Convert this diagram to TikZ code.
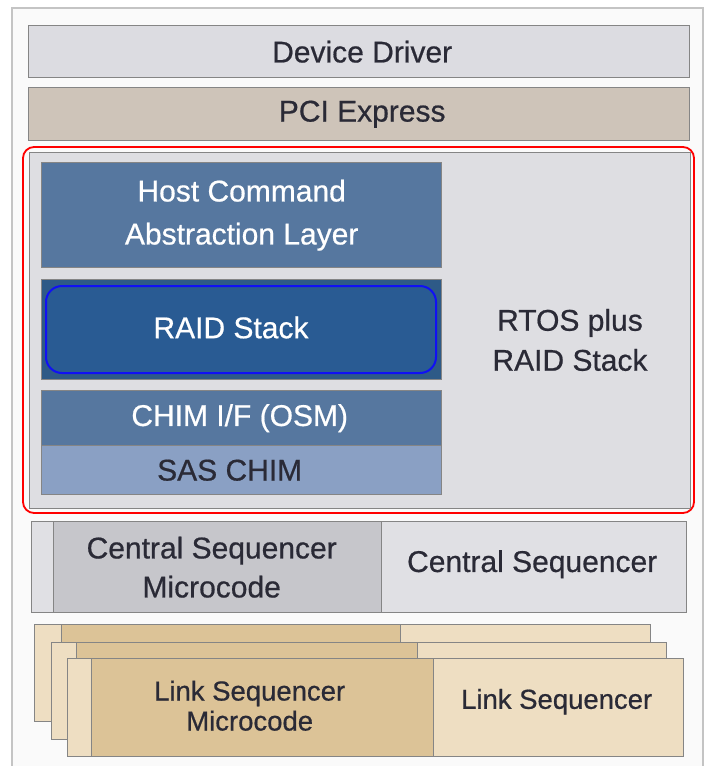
\documentclass[tikz,border=0pt]{standalone}
\usepackage{fontspec}
\setmainfont{Liberation Sans}[FakeBold=0.6]
\definecolor{frameC}{HTML}{C4C4C4}
\definecolor{frameF}{HTML}{FAFAFA}
\definecolor{edgeC}{HTML}{858585}
\definecolor{ddF}{HTML}{DCDCE1}
\definecolor{pciF}{HTML}{CEC4B9}
\definecolor{grayF}{HTML}{DEDEE2}
\definecolor{hostF}{HTML}{56779F}
\definecolor{raidO}{HTML}{2E5A87}
\definecolor{raidI}{HTML}{295B93}
\definecolor{raidB}{HTML}{1010F5}
\definecolor{sasF}{HTML}{8AA0C4}
\definecolor{cmF}{HTML}{C6C6CB}
\definecolor{csF}{HTML}{E0E0E4}
\definecolor{lmF}{HTML}{DCC397}
\definecolor{lsF}{HTML}{EEDEC2}
\definecolor{txtD}{HTML}{2A2A36}
\tikzset{
  blk/.style={draw=edgeC, line width=1.4pt, inner sep=0pt, anchor=north west, align=center},
  lbl/.style={font=\fontsize{30}{43}\selectfont, text=txtD, align=center, inner sep=0pt},
  lblw/.style={lbl, text=white},
  lbls/.style={font=\fontsize{27.5}{30}\selectfont, text=txtD, align=center, inner sep=0pt},
}
\newcommand{\boxat}[6]{% name, x1, y1, x2, y2, fill
  \path let \n1={#4-#2}, \n2={#5-#3} in node[blk, fill=#6, minimum width=\n1*1pt, minimum height=\n2*1pt] (#1) at (#2,#3) {};}
\usetikzlibrary{calc}
\begin{document}
\begin{tikzpicture}[x=1pt,y=-1pt]
\useasboundingbox (0,0) rectangle (707,766);
% outer frame
\fill[white] (0,0) rectangle (707,766);
\draw[frameC, line width=1.6pt, fill=frameF] (12,780) -- (12,8) -- (703,8) -- (703,780);
% top layers
\boxat{dd}{28}{25}{689}{77}{ddF}
\node[lbl] at ($(dd.center)+(3,0)$) {Device Driver};
\boxat{pci}{28}{87}{689}{140}{pciF}
\node[lbl] at ($(pci.center)+(3,0)$) {PCI Express};
% RTOS region
\draw[red, line width=1.8pt, rounded corners=11pt] (23,147) rectangle (694,513);
\boxat{rtos}{29}{152}{690}{508}{grayF}
\node[lbl, font=\fontsize{30}{40}\selectfont] (rtostxt) at (570,340) {RTOS plus\\RAID Stack};
\boxat{host}{41}{162}{441}{267}{hostF}
\node[lblw] at (host.center) {Host Command\\Abstraction Layer};
\boxat{raid}{41}{279}{441}{379}{raidO}
\node[draw=raidB, line width=2pt, fill=raidI, rounded corners=16pt, minimum width=390pt, minimum height=87pt, inner sep=0pt, anchor=north west] (raidin) at (45,285) {};
\node[lblw] at ($(raidin.center)+(-10,-2)$) {RAID Stack};
\boxat{chim}{41}{390}{441}{445}{hostF}
\node[lblw] at ($(chim.center)+(-2,0)$) {CHIM I/F (OSM)};
\boxat{sas}{41}{445}{441}{494}{sasF}
\node[lbl] at ($(sas.center)+(-12,0)$) {SAS CHIM};
% central sequencer
\boxat{cstrip}{31}{521}{53}{612}{csF}
\boxat{cmc}{53}{521}{381}{612}{cmF}
\boxat{cs}{381}{521}{686}{612}{csF}
\node[lbl, font=\fontsize{30}{39}\selectfont] at ($(cmc.center)+(-6,0)$) {Central Sequencer\\Microcode};
\node[lbl] at ($(cs.center)+(-2,-3)$) {Central Sequencer};
% link sequencers (back to front)
\boxat{lstripA}{34}{624}{61}{721}{lsF}
\boxat{lmcA}{61}{624}{400}{721}{lmF}
\boxat{lsA}{400}{624}{650}{721}{lsF}
\boxat{lstripB}{51}{642}{76}{739}{lsF}
\boxat{lmcB}{76}{642}{417}{739}{lmF}
\boxat{lsB}{417}{642}{666}{739}{lsF}
\boxat{lstripC}{67}{658}{91}{756}{lsF}
\boxat{lmcC}{91}{658}{433}{756}{lmF}
\boxat{lsC}{433}{658}{683}{756}{lsF}
\node[lbls] at ($(lmcC.center)+(-13,-2)$) {Link Sequencer\\Microcode};
\node[lbls] at ($(lsC.center)+(-2,-6)$) {Link Sequencer};
\end{tikzpicture}
\end{document}
